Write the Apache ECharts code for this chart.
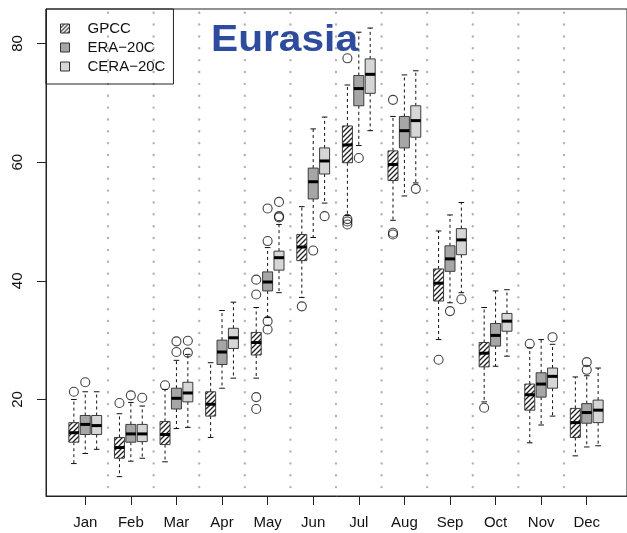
<!DOCTYPE html>
<html>
<head>
<meta charset="utf-8">
<script src="https://cdn.jsdelivr.net/npm/echarts@6/dist/echarts.min.js"></script>
<style>
  html, body { margin: 0; padding: 0; background: #fff; }
  #chart { width: 627px; height: 533px; }
</style>
</head>
<body>
<div id="chart"></div>
<script>
// Monthly precipitation distributions over Eurasia
const months = ['Jan', 'Feb', 'Mar', 'Apr', 'May', 'Jun', 'Jul', 'Aug', 'Sep', 'Oct', 'Nov', 'Dec'];
const seriesNames = ['GPCC', 'ERA\u221220C', 'CERA\u221220C'];
const yTicks = [20, 40, 60, 80];

// Per month: [lower whisker, Q1, median, Q3, upper whisker]
const gpccStats = [
  [9.2, 12.8, 14.4, 16.1, 20.0],
  [7.0, 10.1, 11.9, 13.6, 17.6],
  [9.5, 12.4, 14.1, 16.3, 21.7],
  [13.6, 17.2, 19.2, 21.3, 26.2],
  [23.6, 27.5, 29.6, 31.3, 35.5],
  [37.2, 43.4, 45.7, 47.8, 52.5],
  [51.0, 59.9, 62.9, 66.1, 73.0],
  [50.2, 56.9, 59.6, 61.9, 67.7],
  [30.1, 36.6, 39.6, 42.0, 48.4],
  [19.6, 25.5, 27.8, 29.6, 35.5],
  [12.7, 18.2, 20.8, 22.6, 28.7],
  [10.5, 13.6, 16.1, 18.5, 23.8]
];
const era20cStats = [
  [10.9, 14.1, 15.8, 17.3, 21.3],
  [9.6, 12.8, 14.2, 15.8, 19.5],
  [15.1, 18.4, 20.2, 21.9, 26.6],
  [21.9, 25.9, 28.0, 30.0, 35.0],
  [33.8, 38.3, 39.8, 41.5, 45.6],
  [47.3, 53.8, 56.7, 59.0, 65.6],
  [62.8, 69.5, 72.4, 74.6, 81.9],
  [54.3, 62.4, 65.3, 67.7, 74.7],
  [36.3, 41.6, 43.7, 45.9, 51.1],
  [25.6, 29.0, 30.8, 32.8, 38.3],
  [15.7, 20.4, 22.6, 24.5, 30.1],
  [12.0, 16.0, 17.8, 19.3, 24.0]
];
const cera20cStats = [
  [11.6, 14.1, 15.6, 17.3, 21.3],
  [10.1, 12.9, 14.2, 15.8, 18.9],
  [15.3, 19.6, 21.1, 22.9, 27.6],
  [23.6, 28.6, 30.4, 32.0, 36.4],
  [38.0, 41.8, 43.9, 45.0, 49.5],
  [53.1, 58.0, 60.2, 62.4, 67.6],
  [65.3, 71.6, 74.8, 77.4, 82.6],
  [56.5, 64.2, 67.0, 69.5, 75.4],
  [38.0, 44.4, 46.9, 48.8, 53.2],
  [27.3, 31.5, 33.2, 34.5, 38.5],
  [17.2, 21.9, 23.9, 25.3, 29.3],
  [12.2, 16.1, 18.2, 19.9, 25.3]
];

// Outlying values per month
const gpccOutliers = [
  [21.3], [19.4], [22.4], [], [37.7, 40.2, 20.4, 18.4], [35.7],
  [77.5, 50.4, 50.0, 49.5], [70.5, 48.1, 47.8], [26.7], [18.6], [29.4], []
];
const era20cOutliers = [
  [22.9], [20.7], [28.0, 29.8], [], [46.7, 52.2, 33.2, 31.8], [45.1],
  [60.7], [], [34.9], [], [], [25.0, 26.3]
];
const cera20cOutliers = [
  [], [20.3], [27.9, 29.9], [], [50.9, 50.7, 53.3], [50.9],
  [], [55.5], [36.9], [], [30.5], []
];

const Y_MIN = 3.735, Y_MAX = 85.81;

// Diagonal hatch tile
function hatchTile(size, lw) {
  const c = document.createElement('canvas');
  c.width = size; c.height = size;
  const g = c.getContext('2d');
  g.fillStyle = '#ffffff';
  g.fillRect(0, 0, size, size);
  g.strokeStyle = '#222';
  g.lineWidth = lw;
  g.beginPath();
  g.moveTo(-1, size + 1); g.lineTo(size + 1, -1);
  g.moveTo(-1, 1); g.lineTo(1, -1);
  g.moveTo(size - 1, size + 1); g.lineTo(size + 1, size - 1);
  g.stroke();
  return c;
}
const hatchBox = { image: hatchTile(5, 1.3), repeat: 'repeat' };
const hatchKey = { image: hatchTile(4, 1.1), repeat: 'repeat' };

const fills = [hatchBox, '#a6a6a6', '#d6d6d6'];
const keyFills = [hatchKey, '#a6a6a6', '#d6d6d6'];
const offsets = [-0.25, 0, 0.25];
const statsAll = [gpccStats, era20cStats, cera20cStats];
const outAll = [gpccOutliers, era20cOutliers, cera20cOutliers];

function boxRenderer(fill) {
  return function (params, api) {
    const x = api.value(0);
    const pLow = api.coord([x, api.value(1)]);
    const pQ1 = api.coord([x, api.value(2)]);
    const pMed = api.coord([x, api.value(3)]);
    const pQ3 = api.coord([x, api.value(4)]);
    const pHigh = api.coord([x, api.value(5)]);
    const cx = pMed[0];
    const hw = 5, cap = 2.8;
    const dashed = { stroke: '#111', lineWidth: 1, lineDash: [3, 3] };
    const solid = { stroke: '#111', lineWidth: 1 };
    return {
      type: 'group',
      children: [
        { type: 'line', shape: { x1: cx, y1: pQ3[1], x2: cx, y2: pHigh[1] }, style: dashed },
        { type: 'line', shape: { x1: cx, y1: pQ1[1], x2: cx, y2: pLow[1] }, style: dashed },
        { type: 'line', shape: { x1: cx - cap, y1: pHigh[1], x2: cx + cap, y2: pHigh[1] }, style: solid },
        { type: 'line', shape: { x1: cx - cap, y1: pLow[1], x2: cx + cap, y2: pLow[1] }, style: solid },
        { type: 'rect', shape: { x: cx - hw, y: pQ3[1], width: 2 * hw, height: pQ1[1] - pQ3[1] },
          style: { fill: fill, stroke: '#3c3c3c', lineWidth: 1 } },
        { type: 'line', shape: { x1: cx - hw, y1: pMed[1], x2: cx + hw, y2: pMed[1] },
          style: { stroke: '#000', lineWidth: 3 } }
      ]
    };
  };
}

// dotted separators between months
const series = [{
  type: 'custom',
  silent: true,
  z: 1,
  data: months.slice(1).map(function (m, i) { return [i + 1.5]; }),
  encode: { x: 0 },
  renderItem: function (params, api) {
    const x = api.value(0);
    const top = api.coord([x, Y_MAX]);
    const bottom = api.coord([x, Y_MIN]);
    return {
      type: 'line',
      shape: { x1: top[0], y1: top[1] + 3.7, x2: bottom[0], y2: bottom[1] },
      style: { stroke: '#b2b2b2', lineWidth: 2.4, lineDash: [0.01, 11.85], lineCap: 'round' }
    };
  }
}];

seriesNames.forEach(function (name, s) {
  const boxData = statsAll[s].map(function (st, i) { return [i + 1 + offsets[s]].concat(st); });
  series.push({
    name: name,
    type: 'custom',
    renderItem: boxRenderer(fills[s]),
    itemStyle: { color: s === 0 ? '#ffffff' : fills[s] },
    encode: { x: 0, y: [1, 2, 3, 4, 5] },
    data: boxData,
    z: 3
  });
  const outData = [];
  outAll[s].forEach(function (vals, i) {
    vals.forEach(function (v) { outData.push([i + 1 + offsets[s], v]); });
  });
  series.push({
    name: name,
    type: 'scatter',
    symbol: 'circle',
    symbolSize: 9,
    itemStyle: { color: 'transparent', borderColor: '#111', borderWidth: 1.1 },
    data: outData,
    z: 4
  });
});

const chart = echarts.init(document.getElementById('chart'), null, { renderer: 'canvas' });
chart.setOption({
  animation: false,
  backgroundColor: '#ffffff',
  grid: {
    left: 46, right: -1, top: 9, bottom: 37,
    show: true, borderColor: '#222', borderWidth: 1, backgroundColor: 'transparent'
  },
  xAxis: {
    type: 'value',
    min: 0.139, max: 12.883,
    axisLine: { show: true, lineStyle: { color: '#222', width: 1 } },
    axisTick: { show: true, length: 9, customValues: [1, 2, 3, 4, 5, 6, 7, 8, 9, 10, 11, 12], lineStyle: { color: '#222' } },
    axisLabel: {
      customValues: [1, 2, 3, 4, 5, 6, 7, 8, 9, 10, 11, 12],
      formatter: function (v) { return months[Math.round(v) - 1]; },
      margin: 19, fontSize: 15, color: '#111', fontFamily: 'Liberation Sans'
    },
    splitLine: { show: false }
  },
  yAxis: {
    type: 'value',
    min: Y_MIN, max: Y_MAX,
    axisLine: { show: true, lineStyle: { color: '#222', width: 1 } },
    axisTick: { show: true, length: 9, customValues: yTicks, lineStyle: { color: '#222' } },
    axisLabel: {
      customValues: yTicks, rotate: 90, margin: 21,
      fontSize: 15, color: '#111', fontFamily: 'Liberation Sans'
    },
    splitLine: { show: false }
  },
  legend: {
    orient: 'vertical', left: 46, top: 9,
    padding: [12, 8, 10, 14], itemGap: 4, itemWidth: 9, itemHeight: 9,
    borderColor: '#222', borderWidth: 1,
    selectedMode: false,
    textStyle: { fontSize: 15, fontFamily: 'Liberation Sans', color: '#111', padding: [0, 0, 0, 13] },
    data: seriesNames.map(function (n, s) {
      return { name: n, icon: 'rect', itemStyle: { color: keyFills[s], borderColor: '#333', borderWidth: 1 } };
    })
  },
  graphic: [{
    type: 'text', x: 211, y: 41, scaleX: 1.1, z: 100,
    style: {
      text: 'Eurasia', font: 'bold 37px "Liberation Sans"', fill: '#2E4C9E',
      align: 'left', verticalAlign: 'middle'
    }
  }],
  series: series
});
</script>
</body>
</html>
